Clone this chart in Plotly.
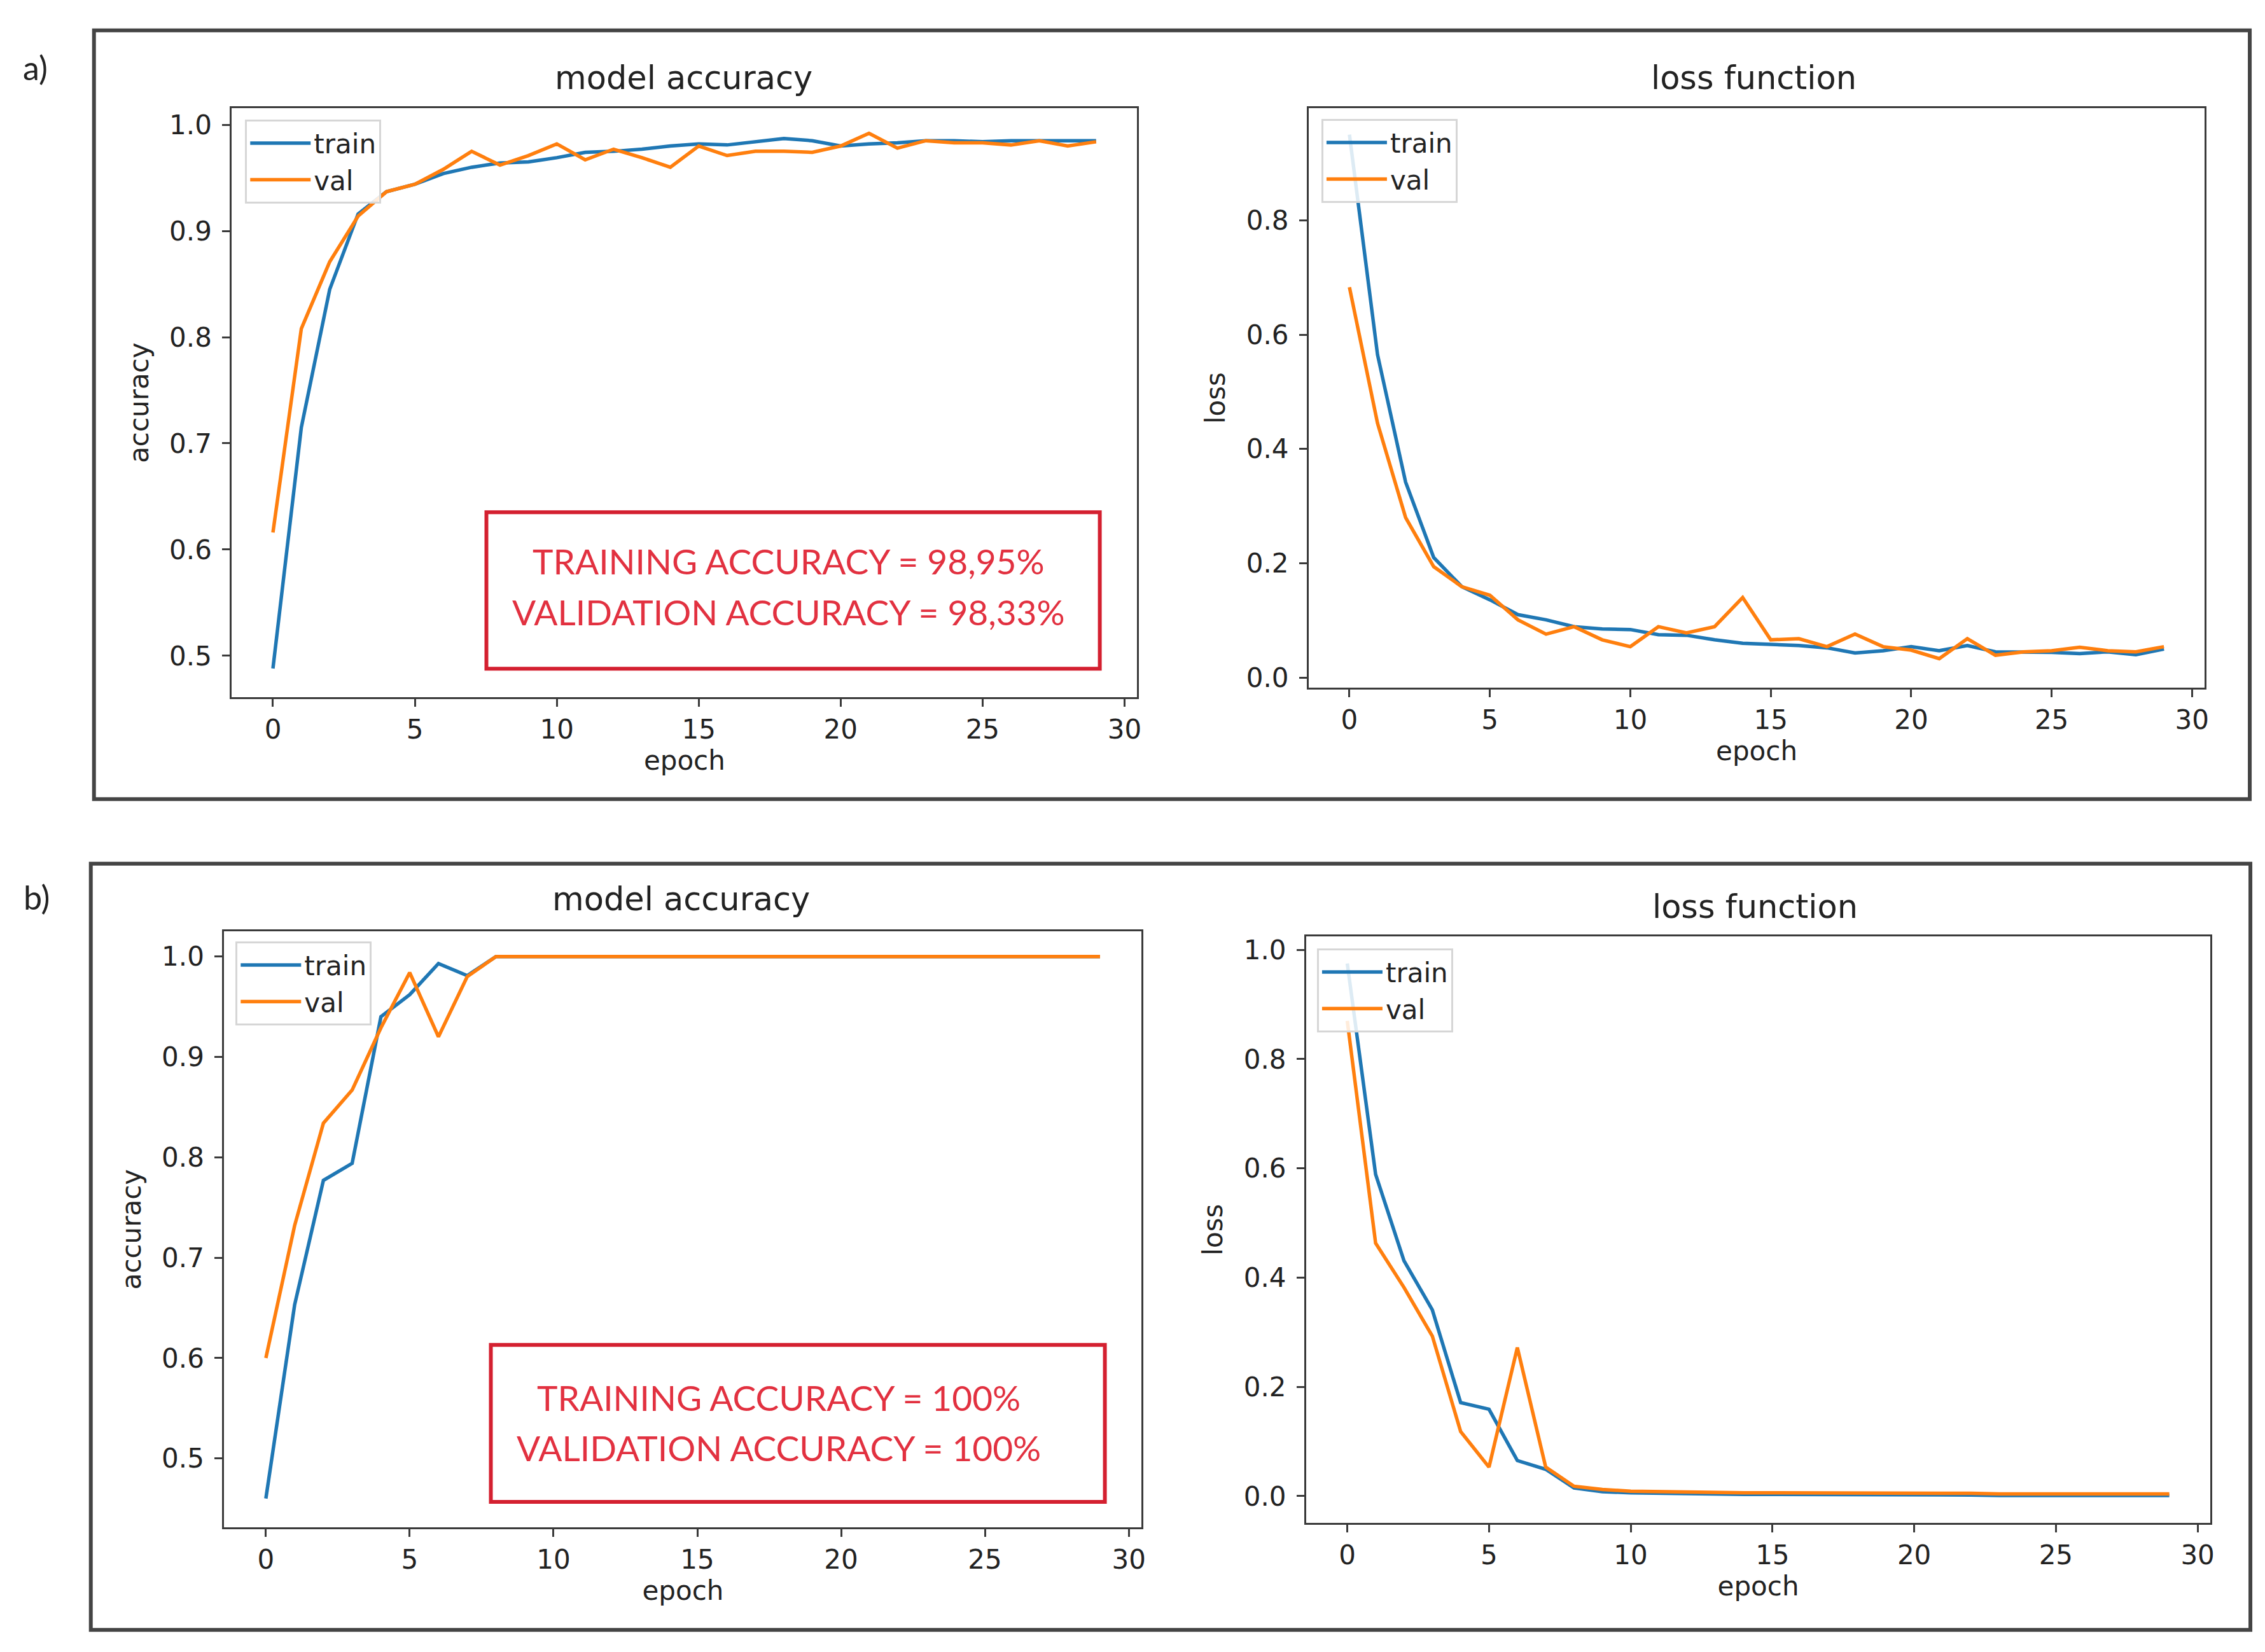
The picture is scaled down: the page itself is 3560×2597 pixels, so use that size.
import plotly.graph_objects as go

# ---------------- data ----------------
epochs = list(range(30))

acc_a_train = [0.488, 0.715, 0.845, 0.916, 0.937, 0.944, 0.954, 0.960, 0.964, 0.965,
               0.969, 0.974, 0.975, 0.977, 0.980, 0.982, 0.981, 0.984, 0.987, 0.985,
               0.980, 0.982, 0.983, 0.985, 0.985, 0.984, 0.985, 0.985, 0.985, 0.985]
acc_a_val = [0.616, 0.808, 0.871, 0.914, 0.937, 0.944, 0.958, 0.975, 0.962, 0.971,
             0.982, 0.967, 0.977, 0.969, 0.960, 0.980, 0.971, 0.975, 0.975, 0.974,
             0.980, 0.992, 0.978, 0.985, 0.983, 0.983, 0.981, 0.985, 0.980, 0.984]

loss_a_train = [0.950, 0.565, 0.342, 0.210, 0.159, 0.136, 0.110, 0.101, 0.089, 0.085,
                0.084, 0.075, 0.074, 0.066, 0.060, 0.058, 0.056, 0.052, 0.043, 0.047,
                0.054, 0.047, 0.056, 0.045, 0.045, 0.044, 0.042, 0.045, 0.040, 0.050]
loss_a_val = [0.683, 0.445, 0.280, 0.194, 0.159, 0.144, 0.101, 0.076, 0.089, 0.066,
              0.054, 0.089, 0.078, 0.089, 0.140, 0.066, 0.068, 0.054, 0.076, 0.054,
              0.048, 0.033, 0.068, 0.039, 0.045, 0.047, 0.053, 0.047, 0.045, 0.054]

acc_b_train = [0.460, 0.653, 0.777, 0.794, 0.940, 0.962, 0.993, 0.981, 1.000, 1.000,
               1.000, 1.000, 1.000, 1.000, 1.000, 1.000, 1.000, 1.000, 1.000, 1.000,
               1.000, 1.000, 1.000, 1.000, 1.000, 1.000, 1.000, 1.000, 1.000, 1.000]
acc_b_val = [0.600, 0.732, 0.834, 0.867, 0.929, 0.984, 0.920, 0.980, 1.000, 1.000,
             1.000, 1.000, 1.000, 1.000, 1.000, 1.000, 1.000, 1.000, 1.000, 1.000,
             1.000, 1.000, 1.000, 1.000, 1.000, 1.000, 1.000, 1.000, 1.000, 1.000]

loss_b_train = [0.975, 0.589, 0.431, 0.341, 0.171, 0.159, 0.065, 0.049, 0.015, 0.008,
                0.006, 0.005, 0.004, 0.004, 0.003, 0.003, 0.003, 0.002, 0.002, 0.002,
                0.002, 0.002, 0.002, 0.001, 0.001, 0.001, 0.001, 0.001, 0.001, 0.001]
loss_b_val = [0.870, 0.463, 0.382, 0.293, 0.118, 0.053, 0.272, 0.053, 0.018, 0.012,
              0.009, 0.008, 0.007, 0.007, 0.006, 0.006, 0.006, 0.005, 0.005, 0.005,
              0.005, 0.005, 0.005, 0.004, 0.004, 0.004, 0.004, 0.004, 0.004, 0.004]

series_names = ["train", "val"]
panel_titles = ["model accuracy", "loss function", "model accuracy", "loss function"]
y_titles = ["accuracy", "loss", "accuracy", "loss"]
x_title = "epoch"
note_a = ["TRAINING ACCURACY = 98,95%", "VALIDATION ACCURACY = 98,33%"]
note_b = ["TRAINING ACCURACY = 100%", "VALIDATION ACCURACY = 100%"]
part_labels = ["a)", "b)"]

# ---------------- style / layout ----------------
W, H = 3560, 2597
BLUE = "#1f77b4"
ORANGE = "#ff7f0e"
FONT = "DejaVu Sans"
TICK_FS = 42
TITLE_FS = 51
AX_COL = "#3a3a3a"


def px_x(p):
    return p / W


def px_y(p):
    return 1 - p / H


# axes pixel boxes (left, right, top, bottom)
boxes = [
    (357, 1783, 160, 1090),
    (2053, 3464, 160, 1075),
    (345, 1790, 1460, 2401),
    (2049, 3473, 1468, 2394),
]
yranges = [[0.461, 1.0155], [-0.0177, 0.996], [0.4314, 1.025], [-0.049, 1.0245]]
ydticks = [0.1, 0.2, 0.1, 0.2]
xrange_ = [-1.45, 30.45]

data_sets = [
    (acc_a_train, acc_a_val),
    (loss_a_train, loss_a_val),
    (acc_b_train, acc_b_val),
    (loss_b_train, loss_b_val),
]
legend_pos = [(378, 178), (2073, 177), (363, 1476), (2066, 1487)]
ytitle_standoff = [20, 21, 20, 21]

fig = go.Figure()
layout = dict(
    width=W, height=H,
    margin=dict(l=0, r=0, t=0, b=0),
    paper_bgcolor="white",
    plot_bgcolor="white",
    font=dict(family=FONT, size=TICK_FS, color="#222"),
    showlegend=True,
)

annotations = []
shapes = []

for i, (tr, va) in enumerate(data_sets):
    n = "" if i == 0 else str(i + 1)
    leg = "legend" if i == 0 else "legend%d" % (i + 1)
    fig.add_trace(go.Scatter(x=epochs, y=tr, mode="lines", name=series_names[0],
                             line=dict(color=BLUE, width=5.5),
                             xaxis="x" + n, yaxis="y" + n, legend=leg))
    fig.add_trace(go.Scatter(x=epochs, y=va, mode="lines", name=series_names[1],
                             line=dict(color=ORANGE, width=5.5),
                             xaxis="x" + n, yaxis="y" + n, legend=leg))
    l, r, t, b = boxes[i]
    common = dict(showgrid=False, zeroline=False, showline=True, mirror=True,
                  linecolor=AX_COL, linewidth=3, ticks="outside", ticklen=12,
                  tickwidth=3, tickcolor=AX_COL,
                  tickfont=dict(family=FONT, size=TICK_FS, color="#222"))
    layout["xaxis" + n] = dict(domain=[px_x(l), px_x(r)], anchor="y" + n,
                               range=xrange_, tick0=0, dtick=5,
                               title=dict(text=x_title, standoff=8,
                                          font=dict(family=FONT, size=TICK_FS, color="#222")),
                               **common)
    layout["yaxis" + n] = dict(domain=[px_y(b), px_y(t)], anchor="x" + n,
                               range=yranges[i], tick0=0, dtick=ydticks[i],
                               tickformat=".1f", ticklabelstandoff=8,
                               title=dict(text=y_titles[i], standoff=ytitle_standoff[i],
                                          font=dict(family=FONT, size=TICK_FS, color="#222")),
                               **common)
    lx, ly = legend_pos[i]
    layout[leg] = dict(x=px_x(lx), y=px_y(ly), xanchor="left", yanchor="top",
                       xref="paper", yref="paper",
                       bgcolor="rgba(255,255,255,0.85)", bordercolor="#d6d6d6",
                       borderwidth=3, itemwidth=95,
                       font=dict(family=FONT, size=TICK_FS, color="#222"))

# panel titles
title_pos = [(1069, 112), (2754, 112), (1065, 1409), (2756, 1421)]
for i, (tx, ty) in enumerate(title_pos):
    annotations.append(dict(text=panel_titles[i], x=px_x(tx), y=px_y(ty),
                            xref="paper", yref="paper", showarrow=False,
                            xanchor="center", yanchor="middle",
                            font=dict(family=FONT, size=TITLE_FS, color="#222")))

# red result boxes
RED_TXT = "#e23140"
RED_BOX = "#d42030"
note_boxes = [((758, 1724, 798, 1045), note_a, 1234, 915),
              ((765, 1732, 2113, 2361), note_b, 1218, 2236)]
for (x0, x1, y0, y1), lines, cx, cy in note_boxes:
    shapes.append(dict(type="rect", xref="paper", yref="paper",
                       x0=px_x(x0), x1=px_x(x1), y0=px_y(y1), y1=px_y(y0),
                       line=dict(color=RED_BOX, width=6), fillcolor="white",
                       layer="above"))
    for k, line in enumerate(lines):
        annotations.append(dict(text=line, x=px_x(cx), y=px_y(cy - 40 + 80 * k),
                                xref="paper", yref="paper", showarrow=False,
                                xanchor="center", yanchor="middle",
                                font=dict(family="Lato", size=55, color=RED_TXT)))

# outer frames
frames = [(140, 3535, 37, 1251), (135, 3536, 1353, 2563)]
for x0, x1, y0, y1 in frames:
    shapes.append(dict(type="rect", xref="paper", yref="paper",
                       x0=px_x(x0), x1=px_x(x1), y0=px_y(y1), y1=px_y(y0),
                       line=dict(color="#444444", width=6)))

# part labels
for lbl, (lx, ly) in zip(part_labels, [(48, 95), (50, 1405)]):
    annotations.append(dict(text=lbl, x=px_x(lx), y=px_y(ly), xref="paper", yref="paper",
                            showarrow=False, xanchor="center", yanchor="middle",
                            font=dict(family="Lato", size=52, color="#222")))

layout["annotations"] = annotations
layout["shapes"] = shapes
fig.update_layout(**layout)
fig.write_html("out.html")
